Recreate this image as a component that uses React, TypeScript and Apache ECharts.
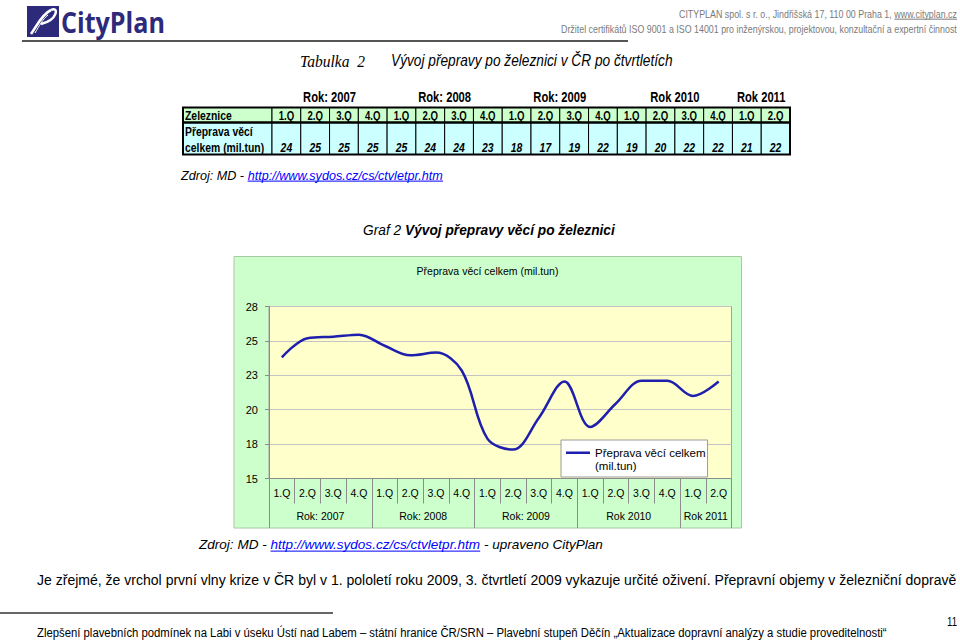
import React, { useEffect, useRef } from 'react';
import * as echarts from 'echarts';

// ---------------- data ----------------
const quarters = ['1.Q', '2.Q', '3.Q', '4.Q', '1.Q', '2.Q', '3.Q', '4.Q', '1.Q', '2.Q', '3.Q', '4.Q', '1.Q', '2.Q', '3.Q', '4.Q', '1.Q', '2.Q'];
const years = ['Rok: 2007', 'Rok: 2008', 'Rok: 2009', 'Rok 2010', 'Rok 2011'];
const quartersPerYear = [4, 4, 4, 4, 2];
// values (mil. t)
const freightMilTons = [23.8, 25.2, 25.3, 25.45, 24.65, 23.95, 24.15, 22.85, 17.9, 17.1, 19.4, 22.05, 18.75, 20.45, 22.1, 22.1, 21.0, 22.05];
// values printed in the table (rounded)
const tableValues = [24, 25, 25, 25, 25, 24, 24, 23, 18, 17, 19, 22, 19, 20, 22, 22, 21, 22];
const tableHeaderLabel = 'Zeleznice';
const tableRowLabel = ['Přeprava věcí', 'celkem (mil.tun)'];
const seriesName = 'Přeprava věcí celkem (mil.tun)';
const yMin = 15;
const yMax = 27.5;
const yStep = 2.5;

// ---------------- style ----------------
const SANS = '"Liberation Sans", Arial, sans-serif';
const SERIF = '"Liberation Serif", "Times New Roman", serif';
const LOGO = '"Open Sans", "Noto Sans", sans-serif';
const NAVY = '#2d2a7b';
const LINE = '#1f1fae';
const CX = 0.8;

let ctx: CanvasRenderingContext2D | null = null;
function measure(text: string, size: number, family: string, weight = 'normal', style = 'normal') {
  if (!ctx) ctx = document.createElement('canvas').getContext('2d');
  ctx!.font = `${style} ${weight} ${size}px ${family}`;
  return ctx!.measureText(text).width;
}

type Part = { text: string; color?: string; underline?: boolean; weight?: string };
type LineOpt = { size: number; family?: string; style?: string; weight?: string; target?: number; scale?: number; align?: 'left' | 'right' | 'center'; color?: string };

function textLine(x: number, y: number, parts: Part[], o: LineOpt) {
  const fam = o.family || SANS;
  const widths = parts.map((p) => measure(p.text, o.size, fam, p.weight || o.weight || 'normal', o.style || 'normal'));
  const total = widths.reduce((a, b) => a + b, 0);
  const s = o.target ? o.target / total : o.scale ?? 1;
  let cx = x;
  if (o.align === 'right') cx = x - total * s;
  else if (o.align === 'center') cx = x - (total * s) / 2;
  const out: any[] = [];
  parts.forEach((p, i) => {
    const color = p.color || o.color || '#000';
    out.push({
      type: 'text', x: cx, y, scaleX: s, silent: true, z: 5,
      style: {
        text: p.text, x: 0, y: 0, fontSize: o.size, fontFamily: fam,
        fontWeight: p.weight || o.weight || 'normal', fontStyle: o.style || 'normal',
        fill: color, align: 'left', verticalAlign: 'middle', textAlign: 'left', textVerticalAlign: 'middle',
      },
    });
    if (p.underline) {
      const uy = y + o.size * 0.47;
      out.push({ type: 'line', silent: true, z: 5, shape: { x1: cx, y1: uy, x2: cx + widths[i] * s, y2: uy }, style: { stroke: color, lineWidth: 1 } });
    }
    cx += widths[i] * s;
  });
  return out;
}

function rect(x: number, y: number, w: number, h: number, fill: string, stroke = '#000', lw = 1, z = 1) {
  return { type: 'rect', silent: true, z, shape: { x, y, width: w, height: h }, style: { fill, stroke, lineWidth: lw } };
}

function buildOption() {
  const g: any[] = [];

  // ---- logo / header ----
  g.push(rect(27, 6, 32, 31, NAVY, NAVY, 0));
  g.push({ type: 'bezierCurve', silent: true, z: 6, shape: { x1: 31, y1: 34, cpx1: 36, cpy1: 27, cpx2: 42, cpy2: 14, x2: 51, y2: 10 }, style: { stroke: '#fff', lineWidth: 2.6, fill: null } });
  g.push({ type: 'bezierCurve', silent: true, z: 6, shape: { x1: 51, y1: 10, cpx1: 59, cpy1: 6, cpx2: 58, cpy2: 20, x2: 41, y2: 24 }, style: { stroke: '#fff', lineWidth: 2.4, fill: null } });
  g.push({ type: 'bezierCurve', silent: true, z: 6, shape: { x1: 35, y1: 33, cpx1: 39, cpy1: 26, cpx2: 43, cpy2: 19, x2: 48, y2: 15 }, style: { stroke: '#fff', lineWidth: 1, fill: null } });
  g.push(...textLine(61, 22, [{ text: 'CityPlan' }], { size: 28, family: LOGO, weight: 'bold', target: 104, color: NAVY }));
  g.push({ type: 'line', silent: true, shape: { x1: 22, y1: 41, x2: 628, y2: 41 }, style: { stroke: '#555', lineWidth: 2 } });
  g.push(...textLine(957, 14, [{ text: 'CITYPLAN spol. s r. o., Jindřišská 17, 110 00 Praha 1, ' }, { text: 'www.cityplan.cz', underline: true }], { size: 11, target: 278, align: 'right', color: '#7a7a7a' }));
  g.push(...textLine(957, 29, [{ text: 'Držitel certifikátů ISO 9001 a ISO 14001 pro inženýrskou, projektovou, konzultační a expertní činnost' }], { size: 11, target: 396, align: 'right', color: '#7a7a7a' }));

  // ---- table title ----
  g.push(...textLine(300, 61, [{ text: 'Tabulka  2' }], { size: 16, family: SERIF, style: 'italic', target: 65 }));
  g.push(...textLine(391, 61, [{ text: 'Vývoj přepravy po železnici v ČR po čtvrtletích' }], { size: 16, style: 'italic', target: 282 }));

  // ---- table ----
  const tL = 183, qL = 272, qR = 790;
  const qW = (qR - qL) / quarters.length;
  const r1T = 107.5, r1B = 122.5, r2B = 154.5;
  const GREEN = '#ccffcc', CYAN = '#ccffff';
  g.push(rect(tL, r1T, qL - tL, r1B - r1T, GREEN));
  g.push(rect(tL, r1B, qL - tL, r2B - r1B, CYAN));
  quarters.forEach((q, i) => {
    const x = qL + i * qW;
    g.push(rect(x, r1T, qW, r1B - r1T, GREEN));
    g.push(rect(x, r1B, qW, r2B - r1B, CYAN));
    g.push(...textLine(x + qW / 2, (r1T + r1B) / 2 + 0.5, [{ text: q }], { size: 12, weight: 'bold', scale: CX, align: 'center' }));
    g.push(...textLine(x + qW / 2, 147.5, [{ text: String(tableValues[i]) }], { size: 13, weight: 'bold', style: 'italic', scale: CX, align: 'center' }));
  });
  g.push({ type: 'rect', silent: true, z: 2, shape: { x: tL, y: r1T, width: qR - tL, height: r2B - r1T }, style: { fill: null, stroke: '#000', lineWidth: 2 } });
  g.push({ type: 'line', silent: true, z: 2, shape: { x1: tL, y1: r1B, x2: qR, y2: r1B }, style: { stroke: '#000', lineWidth: 2.5 } });
  g.push(...textLine(tL + 2, (r1T + r1B) / 2 + 0.5, [{ text: tableHeaderLabel }], { size: 13, weight: 'bold', scale: CX }));
  g.push(...textLine(tL + 2, 131, [{ text: tableRowLabel[0] }], { size: 13, weight: 'bold', scale: CX }));
  g.push(...textLine(tL + 2, 147.5, [{ text: tableRowLabel[1] }], { size: 13, weight: 'bold', scale: CX }));
  let start = 0;
  years.forEach((y, i) => {
    const n = quartersPerYear[i];
    g.push(...textLine(qL + (start + n / 2) * qW, 97.5, [{ text: y }], { size: 14, weight: 'bold', scale: CX, align: 'center' }));
    start += n;
  });
  g.push(...textLine(181, 175, [{ text: 'Zdroj: MD - ' }, { text: 'http://www.sydos.cz/cs/ctvletpr.htm', color: '#0000ff', underline: true }], { size: 13, style: 'italic', target: 262 }));

  // ---- chart heading ----
  g.push(...textLine(363, 230, [{ text: 'Graf 2 ' }, { text: 'Vývoj přepravy věcí po železnici', weight: 'bold' }], { size: 14, style: 'italic', target: 252 }));

  // chart outer box
  g.push({ type: 'rect', silent: true, z: -1, shape: { x: 234, y: 256.5, width: 507.5, height: 271.5 }, style: { fill: '#ccffcc', stroke: '#a8c8a8', lineWidth: 1 } });

  // ---- text below chart ----
  g.push(...textLine(199, 545, [{ text: 'Zdroj: MD - ' }, { text: 'http://www.sydos.cz/cs/ctvletpr.htm', color: '#0000ff', underline: true }, { text: ' - upraveno CityPlan' }], { size: 13, style: 'italic', target: 404 }));
  g.push(...textLine(37, 580, [{ text: 'Je zřejmé, že vrchol první vlny krize v ČR byl v 1. pololetí roku 2009, 3. čtvrtletí 2009 vykazuje určité oživení. Přepravní objemy v železniční dopravě' }], { size: 15, target: 920 }));
  g.push({ type: 'line', silent: true, shape: { x1: 0, y1: 613, x2: 333, y2: 613 }, style: { stroke: '#333', lineWidth: 1.5 } });
  g.push(...textLine(37, 632, [{ text: 'Zlepšení plavebních podmínek na Labi v úseku Ústí nad Labem – státní hranice ČR/SRN – Plavební stupeň Děčín „Aktualizace dopravní analýzy a studie proveditelnosti“' }], { size: 12, target: 851 }));
  g.push(...textLine(957, 622, [{ text: '11' }], { size: 12, align: 'right', scale: CX }));

  // ---- axes helpers ----
  const boundaryData: string[] = new Array(quarters.length + 1).fill('');
  const yearBoundaries: number[] = [0];
  let b = 0;
  years.forEach((y, i) => {
    const n = quartersPerYear[i];
    boundaryData[b + n / 2] = y;
    b += n;
    yearBoundaries.push(b);
  });

  const titleSize = 10.5;
  const titleW = measure(seriesName, titleSize, SANS);
  const axisGrey = '#8c8c8c';

  return {
    animation: false,
    backgroundColor: '#ffffff',
    title: {
      text: seriesName, left: 487.5 - titleW / 2, top: 265, padding: 0,
      textStyle: { fontSize: titleSize, fontWeight: 'normal', color: '#000', fontFamily: SANS },
    },
    grid: {
      left: 269, right: 960 - 731.5, top: 306.5, bottom: 640 - 478.5,
      show: true, backgroundColor: '#ffffcc', borderColor: '#a0a0a0', borderWidth: 1,
    },
    legend: {
      data: [{ name: seriesName, icon: 'path://M0,0 L1,0 L1,0.01 Z M0,5.6 L24,5.6 L24,8 L0,8 Z M0,26 L1,26 L1,25.99 Z' }],
      left: 561, top: 440, orient: 'vertical',
      backgroundColor: '#ffffff', borderColor: '#9a9a9a', borderWidth: 1,
      padding: [6, 2, 5, 5], itemWidth: 24, itemHeight: 26, itemGap: 0,
      selectedMode: false,
      itemStyle: { borderWidth: 0 },
      formatter: (name: string) => name.replace(' (', '\n('),
      textStyle: { fontSize: 11.5, lineHeight: 13, color: '#000', fontFamily: SANS },
    },
    xAxis: [
      {
        type: 'category', data: quarters, boundaryGap: true, position: 'bottom',
        axisLine: { show: true, lineStyle: { color: axisGrey } },
        axisTick: { show: true, length: 25, interval: 0, lineStyle: { color: axisGrey } },
        axisLabel: { interval: 0, margin: 9, fontSize: 10.5, color: '#000', fontFamily: SANS },
        splitLine: { show: false },
      },
      {
        type: 'category', data: boundaryData, boundaryGap: false, position: 'bottom',
        axisLine: { show: false },
        axisTick: { show: true, length: 49.5, interval: (i: number) => yearBoundaries.indexOf(i) >= 0, lineStyle: { color: axisGrey } },
        axisLabel: { interval: (_i: number, v: string) => v !== '', margin: 32, fontSize: 10.5, color: '#000', fontFamily: SANS },
        splitLine: { show: false },
      },
    ],
    yAxis: {
      type: 'value', min: yMin, max: yMax, interval: yStep,
      axisLine: { show: true, lineStyle: { color: axisGrey } },
      axisTick: { show: true, length: 4, lineStyle: { color: axisGrey } },
      axisLabel: { formatter: (v: number) => String(Math.round(v)), margin: 11, fontSize: 11, color: '#000', fontFamily: SANS },
      splitLine: { show: true, lineStyle: { color: '#c4c4c4' } },
    },
    series: [
      {
        name: seriesName, type: 'line', data: freightMilTons, smooth: 0.35,
        symbol: 'none', xAxisIndex: 0, yAxisIndex: 0,
        lineStyle: { color: LINE, width: 2.5 }, itemStyle: { color: LINE },
      },
    ],
    graphic: { elements: g },
  };
}

export default function App() {
  const ref = useRef<HTMLDivElement>(null);
  useEffect(() => {
    if (!ref.current) return;
    const chart = echarts.init(ref.current, null, { renderer: 'svg' });
    chart.setOption(buildOption() as any);
    return () => chart.dispose();
  }, []);
  return <div ref={ref} style={{ position: 'absolute', left: 0, top: 0, width: 960, height: 640, background: '#fff' }} />;
}
